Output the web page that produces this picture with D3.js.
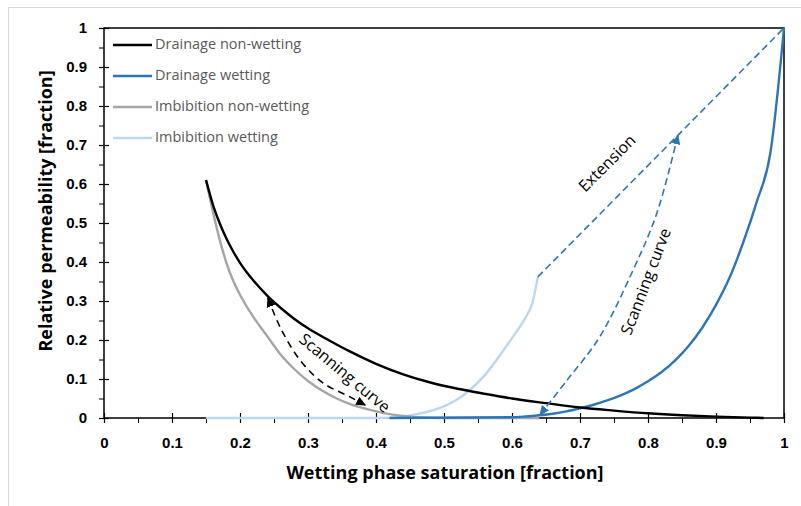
<!DOCTYPE html>
<html>
<head>
<meta charset="utf-8">
<script src="https://cdn.jsdelivr.net/npm/d3@7"></script>
<style>
  body { margin: 0; background: #fff; }
  svg text { font-family: "Open Sans", "Liberation Sans", sans-serif; }
</style>
</head>
<body>
<svg id="chart" width="801" height="506"></svg>
<script>
// saturation / relative permeability pairs
var drainNwS = [0.15, 0.16, 0.17, 0.18, 0.19, 0.2, 0.22, 0.24, 0.26, 0.28, 0.3, 0.33, 0.36, 0.4, 0.44, 0.48, 0.52, 0.56, 0.6, 0.65, 0.7, 0.75, 0.8, 0.85, 0.9, 0.95, 0.97];
var drainNwK = [0.61, 0.548, 0.5, 0.46, 0.427, 0.398, 0.352, 0.314, 0.282, 0.254, 0.23, 0.2, 0.172, 0.139, 0.112, 0.091, 0.075, 0.062, 0.05, 0.038, 0.027, 0.019, 0.012, 0.007, 0.0035, 0.001, 0];

var drainWS = [0.42, 0.6, 0.62, 0.64, 0.66, 0.68, 0.7, 0.72, 0.74, 0.76, 0.78, 0.8, 0.82, 0.84, 0.86, 0.88, 0.9, 0.92, 0.94, 0.96, 0.98, 1.0];
var drainWK = [0, 0.002, 0.004, 0.007, 0.011, 0.017, 0.025, 0.034, 0.045, 0.058, 0.074, 0.094, 0.118, 0.148, 0.185, 0.232, 0.29, 0.36, 0.45, 0.555, 0.68, 1.0];

var imbNwS = [0.15, 0.16, 0.17, 0.18, 0.19, 0.2, 0.22, 0.24, 0.26, 0.28, 0.3, 0.32, 0.34, 0.36, 0.38, 0.4, 0.42, 0.44, 0.46, 0.48, 0.5, 0.64];
var imbNwK = [0.61, 0.53, 0.458, 0.398, 0.352, 0.316, 0.258, 0.21, 0.162, 0.125, 0.095, 0.071, 0.052, 0.037, 0.026, 0.017, 0.01, 0.005, 0.002, 0.0005, 0, 0];

var imbWS = [0.15, 0.4, 0.42, 0.44, 0.46, 0.48, 0.5, 0.52, 0.54, 0.56, 0.58, 0.6, 0.62, 0.63, 0.638];
var imbWK = [0, 0, 0.001, 0.004, 0.01, 0.018, 0.03, 0.048, 0.075, 0.11, 0.155, 0.205, 0.258, 0.295, 0.362];

// annotation paths
var extensionPts = [[0.638, 0.362], [1, 1]];
var scanWetPts = [[0.641, 0.008], [0.681, 0.097], [0.729, 0.208], [0.778, 0.379], [0.813, 0.525], [0.844, 0.725]];
var scanNwPts = [[0.241, 0.308], [0.259, 0.233], [0.288, 0.149], [0.322, 0.09], [0.362, 0.054], [0.384, 0.033]];

var xTicks = [0, 0.1, 0.2, 0.3, 0.4, 0.5, 0.6, 0.7, 0.8, 0.9, 1];
var yTicks = [0, 0.1, 0.2, 0.3, 0.4, 0.5, 0.6, 0.7, 0.8, 0.9, 1];
var minorTicks = [0.05, 0.15, 0.25, 0.35, 0.45, 0.55, 0.65, 0.75, 0.85, 0.95];

var legendNames = ["Drainage non-wetting", "Drainage wetting", "Imbibition non-wetting", "Imbibition wetting"];
var colors = ["#000000", "#2E75B6", "#A5A5A5", "#BDD7EE"];

var svg = d3.select("#chart");

// outer chart border
svg.append("rect")
  .attr("x", 8.5).attr("y", 7.5)
  .attr("width", 830).attr("height", 530)
  .attr("fill", "none").attr("stroke", "#D9D9D9");

var pLeft = 104, pRight = 784, pTop = 28, pBottom = 418;
var x = d3.scaleLinear().domain([0, 1]).range([pLeft, pRight]);
var y = d3.scaleLinear().domain([0, 1]).range([pBottom, pTop]);

// minor ticks (outside)
svg.append("g")
  .attr("transform", "translate(0," + pBottom + ")")
  .call(d3.axisBottom(x).tickValues(minorTicks).tickSize(5).tickFormat(""))
  .call(function(g){ g.select(".domain").remove(); g.selectAll("line").attr("stroke", "#000"); });
svg.append("g")
  .attr("transform", "translate(" + pLeft + ",0)")
  .call(d3.axisLeft(y).tickValues(minorTicks).tickSize(5).tickFormat(""))
  .call(function(g){ g.select(".domain").remove(); g.selectAll("line").attr("stroke", "#000"); });

// major ticks (cross)
var xAxis = svg.append("g")
  .attr("transform", "translate(0," + pBottom + ")")
  .call(d3.axisBottom(x).tickValues(xTicks).tickSizeInner(5).tickSizeOuter(0).tickPadding(14).tickFormat(d3.format("")));
xAxis.select(".domain").remove();
xAxis.selectAll(".tick line").attr("y1", -5).attr("y2", 5).attr("stroke", "#000").attr("stroke-width", 1.2);
xAxis.selectAll("text")
  .style("font-family", "'Liberation Sans Narrow', 'Liberation Sans', sans-serif")
  .style("font-weight", "bold").style("font-size", "15px").attr("fill", "#000");

var yAxis = svg.append("g")
  .attr("transform", "translate(" + pLeft + ",0)")
  .call(d3.axisLeft(y).tickValues(yTicks).tickSizeInner(5).tickSizeOuter(0).tickPadding(12).tickFormat(d3.format("")));
yAxis.select(".domain").remove();
yAxis.selectAll(".tick line").attr("x1", -5).attr("x2", 5).attr("stroke", "#000").attr("stroke-width", 1.2);
yAxis.selectAll("text")
  .style("font-family", "'Liberation Sans Narrow', 'Liberation Sans', sans-serif")
  .style("font-weight", "bold").style("font-size", "15px").attr("fill", "#000");

// plot frame
svg.append("rect")
  .attr("x", pLeft).attr("y", pTop)
  .attr("width", pRight - pLeft).attr("height", pBottom - pTop)
  .attr("fill", "none").attr("stroke", "#000").attr("stroke-width", 1.5);

// arrow markers
var defs = svg.append("defs");
[["arrBlack", "#000"], ["arrBlue", "#2E75B6"]].forEach(function(m){
  defs.append("marker")
    .attr("id", m[0])
    .attr("viewBox", "0 0 10 10")
    .attr("refX", 9).attr("refY", 5)
    .attr("markerWidth", 10).attr("markerHeight", 10)
    .attr("markerUnits", "userSpaceOnUse")
    .attr("orient", "auto-start-reverse")
    .append("path").attr("d", "M0,0.5 L10,5 L0,9.5 Z").attr("fill", m[1]);
});

var line = d3.line().x(function(d){ return x(d[0]); }).y(function(d){ return y(d[1]); });
var mono = d3.line().curve(d3.curveMonotoneX).x(function(d){ return x(d[0]); }).y(function(d){ return y(d[1]); });
function zip(a, b){ return a.map(function(v, i){ return [v, b[i]]; }); }

var series = [zip(drainNwS, drainNwK), zip(drainWS, drainWK), zip(imbNwS, imbNwK), zip(imbWS, imbWK)];
// draw order: imbibition first, drainage on top
[3, 2, 1, 0].forEach(function(i){
  svg.append("path")
    .datum(series[i])
    .attr("d", mono)
    .attr("fill", "none")
    .attr("stroke", colors[i])
    .attr("stroke-width", 2.4)
    .attr("stroke-linejoin", "round");
});

// dashed annotations
svg.append("path").datum(extensionPts).attr("d", line)
  .attr("fill", "none").attr("stroke", "#2E75B6").attr("stroke-width", 1.6).attr("stroke-dasharray", "7,4");

var smooth = d3.line().curve(d3.curveCatmullRom).x(function(d){ return x(d[0]); }).y(function(d){ return y(d[1]); });
svg.append("path").datum(scanWetPts).attr("d", smooth)
  .attr("fill", "none").attr("stroke", "#2E75B6").attr("stroke-width", 1.6).attr("stroke-dasharray", "7,4")
  .attr("marker-start", "url(#arrBlue)").attr("marker-end", "url(#arrBlue)");
svg.append("path").datum(scanNwPts).attr("d", smooth)
  .attr("fill", "none").attr("stroke", "#000").attr("stroke-width", 1.6).attr("stroke-dasharray", "7,5")
  .attr("marker-start", "url(#arrBlack)").attr("marker-end", "url(#arrBlack)");

// annotation labels
function note(txt, cx, cy, angle){
  svg.append("text")
    .attr("transform", "translate(" + cx + "," + cy + ") rotate(" + angle + ")")
    .attr("text-anchor", "middle").attr("dominant-baseline", "middle")
    .style("font-size", "16px").attr("fill", "#000")
    .text(txt);
}
note("Scanning curve", 344, 374, 40);
note("Extension", 608, 164, -45);
note("Scanning curve", 647, 282, -69);

// legend
var lg = svg.append("g");
legendNames.forEach(function(n, i){
  var ly = 45 + i * 31;
  lg.append("line").attr("x1", 113).attr("x2", 152).attr("y1", ly).attr("y2", ly)
    .attr("stroke", colors[i]).attr("stroke-width", 2.4);
  lg.append("text").attr("x", 155).attr("y", ly).attr("dominant-baseline", "middle")
    .style("font-size", "14.5px").attr("fill", "#595959").text(n);
});

// axis titles
svg.append("text")
  .attr("x", 445).attr("y", 479).attr("text-anchor", "middle")
  .style("font-size", "18px").style("font-weight", "bold").attr("fill", "#000")
  .text("Wetting phase saturation [fraction]");
svg.append("text")
  .attr("transform", "translate(52,211) rotate(-90)").attr("text-anchor", "middle")
  .style("font-size", "18px").style("font-weight", "bold").attr("fill", "#000")
  .text("Relative permeability [fraction]");
</script>
</body>
</html>
